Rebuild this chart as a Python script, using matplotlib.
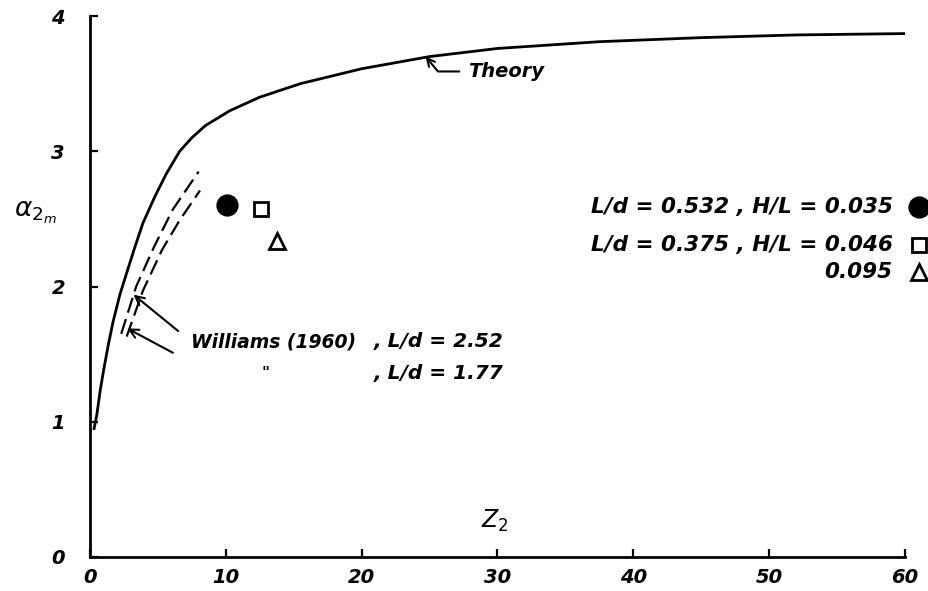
import numpy as np
import matplotlib
matplotlib.use("Agg")
import matplotlib.pyplot as plt

# values
theory_z = [0.3, 0.5, 0.75, 1.0, 1.35, 1.7, 2.2, 2.7, 3.3, 3.9, 4.8, 5.6, 6.6, 7.5, 8.5,
            10.3, 12.5, 15.5, 20, 25, 30, 37.5, 45, 52, 60]
theory_a = [0.95, 1.05, 1.23, 1.38, 1.57, 1.74, 1.94, 2.10, 2.29, 2.47, 2.67, 2.83, 3.00, 3.10, 3.19,
            3.30, 3.40, 3.50, 3.61, 3.70, 3.76, 3.81, 3.84, 3.86, 3.87]

will_252_z = [2.3, 3.4, 4.7, 6.1, 8.0]
will_252_a = [1.65, 2.0, 2.29, 2.57, 2.85]
will_177_z = [2.7, 3.9, 5.3, 6.6, 8.1]
will_177_a = [1.63, 1.97, 2.27, 2.49, 2.71]

exp_z = [10.1, 12.6, 13.8]
exp_a = [2.60, 2.57, 2.34]
exp_mk = ['o', 's', '^']
exp_fill = ['black', 'none', 'none']
exp_ms = [14, 10, 11]
exp_labels = ['L/d = 0.532 , H/L = 0.035', 'L/d = 0.375 , H/L = 0.046', '0.095']
legend_a = [2.59, 2.31, 2.11]

xticks = [0, 10, 20, 30, 40, 50, 60]
yticks = [0, 1, 2, 3, 4]

font = dict(family='DejaVu Sans', style='oblique', weight='bold')

fig = plt.figure(figsize=(9.29, 5.91), dpi=100)
ax = fig.add_axes([90/929, 1-557/591, 815/929, 541/591])

ax.plot(theory_z, theory_a, color='black', lw=2)
ax.plot(will_252_z, will_252_a, color='black', lw=1.6, ls=(0, (7, 3)))
ax.plot(will_177_z, will_177_a, color='black', lw=1.6, ls=(0, (7, 3)))

for z, a, m, f, s in zip(exp_z, exp_a, exp_mk, exp_fill, exp_ms):
    ax.plot(z, a, marker=m, ms=s, mfc=f, mec='black', mew=2, ls='none')

# key at the right hand side
for lab, a, m, f, s in zip(exp_labels, legend_a, exp_mk, exp_fill, exp_ms):
    ax.text(59.1, a, lab, ha='right', va='center', fontsize=15.5, **font)
    ax.plot(61.0, a, marker=m, ms=s, mfc=f, mec='black', mew=2, ls='none', clip_on=False)

# Theory label with hooked arrow
ax.annotate('Theory', xy=(24.7, 3.70), xytext=(27.8, 3.59), fontsize=14, va='center', ha='left',
            arrowprops=dict(arrowstyle='->', color='black', lw=1.5, mutation_scale=14,
                            connectionstyle='angle,angleA=0,angleB=-50,rad=0', shrinkA=4, shrinkB=0),
            **font)

# Williams (1960) notes
ax.text(7.4, 1.59, 'Williams (1960)', fontsize=13.5, va='center', ha='left', **font)
ax.text(20.85, 1.59, ', L/d = 2.52', fontsize=14.5, va='center', ha='left', **font)
ax.text(12.6, 1.36, '"', fontsize=11, va='center', ha='left', **font)
ax.text(20.85, 1.36, ', L/d = 1.77', fontsize=14.5, va='center', ha='left', **font)
ax.annotate('', xy=(3.2, 1.94), xytext=(6.5, 1.67),
            arrowprops=dict(arrowstyle='->', color='black', lw=1.5, mutation_scale=16, shrinkA=0, shrinkB=0))
ax.annotate('', xy=(2.75, 1.69), xytext=(6.1, 1.51),
            arrowprops=dict(arrowstyle='->', color='black', lw=1.5, mutation_scale=16, shrinkA=0, shrinkB=0))

ax.text(29.8, 0.27, r'$Z_2$', fontsize=17, ha='center', va='center')
fig.text(35/929, 1-213/591, r'$\alpha_{2_m}$', fontsize=19, ha='center', va='center')

ax.set_xlim(0, 60)
ax.set_ylim(0, 4)
ax.set_xticks(xticks)
ax.set_yticks(yticks)
ax.set_xticklabels([str(t) for t in xticks], fontsize=14, **font)
ax.set_yticklabels([str(t) for t in yticks], fontsize=14, **font)
ax.tick_params(direction='in', length=6, width=1.6)
ax.tick_params(axis='x', pad=8)
ax.tick_params(axis='y', pad=18)
ax.spines['top'].set_visible(False)
ax.spines['right'].set_visible(False)
ax.spines['left'].set_linewidth(2)
ax.spines['bottom'].set_linewidth(2)

fig.savefig('out.png', dpi=100)
